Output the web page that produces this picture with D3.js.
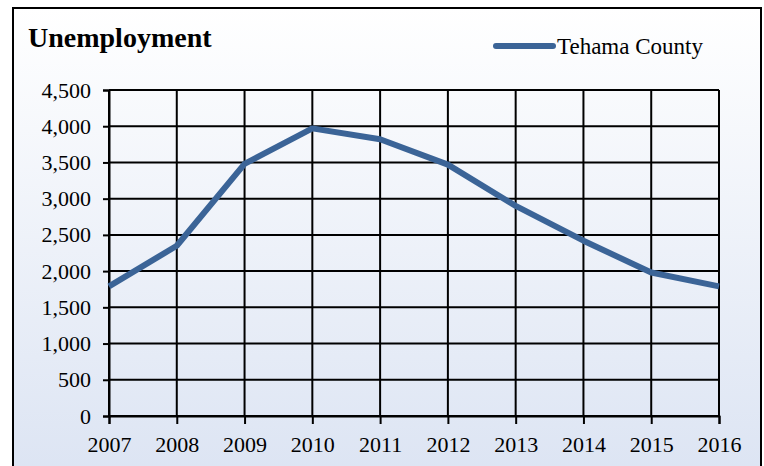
<!DOCTYPE html>
<html>
<head>
<meta charset="utf-8">
<script src="https://cdn.jsdelivr.net/npm/d3@7"></script>
<style>
  body { margin: 0; background: #fff; }
  svg text { font-family: "Times New Roman", "Liberation Serif", serif; }
</style>
</head>
<body>
<div id="chart"></div>
<script>
// data
var years = [2007, 2008, 2009, 2010, 2011, 2012, 2013, 2014, 2015, 2016]
var unemployment = [1790, 2350, 3480, 3970, 3820, 3470, 2900, 2420, 1980, 1790]
var yTicks = [0, 500, 1000, 1500, 2000, 2500, 3000, 3500, 4000, 4500]
var seriesName = 'Tehama County'

var width = 764, height = 466
var margin = {left: 109, right: 45, top: 90, bottom: 50}
var serif = '"Times New Roman", "Liberation Serif", serif'

var svg = d3.select('#chart')
  .append('svg')
  .attr('width', width)
  .attr('height', height)

var grad = svg.append('defs').append('linearGradient')
  .attr('id', 'bg')
  .attr('x1', 0).attr('y1', 0).attr('x2', 0).attr('y2', 1)
grad.append('stop').attr('offset', '0%').attr('stop-color', '#ffffff')
grad.append('stop').attr('offset', '100%').attr('stop-color', '#dce4f3')

svg.append('rect')
  .attr('x', 13).attr('y', 8)
  .attr('width', 748).attr('height', 470)
  .attr('fill', 'url(#bg)')
  .attr('stroke', '#000')
  .attr('stroke-width', 2)

var x = d3.scalePoint()
  .domain(years)
  .range([margin.left, width - margin.right])

var y = d3.scaleLinear()
  .domain([0, 4500])
  .range([416, margin.top])

// gridlines
svg.append('g')
  .selectAll('line')
  .data(yTicks)
  .enter()
  .append('line')
  .attr('x1', margin.left)
  .attr('x2', width - margin.right)
  .attr('y1', d => y(d))
  .attr('y2', d => y(d))
  .attr('stroke', '#000')
  .attr('stroke-width', 2)

svg.append('g')
  .selectAll('line')
  .data(years)
  .enter()
  .append('line')
  .attr('x1', d => x(d))
  .attr('x2', d => x(d))
  .attr('y1', y(4500))
  .attr('y2', y(0))
  .attr('stroke', '#000')
  .attr('stroke-width', 2)

// axes
var yAxis = svg.append('g')
  .attr('transform', `translate(${margin.left},0)`)
  .call(d3.axisLeft(y).tickValues(yTicks).tickSize(6).tickPadding(12).tickFormat(d3.format(',')))

var xAxis = svg.append('g')
  .attr('transform', `translate(0,${y(0)})`)
  .call(d3.axisBottom(x).tickSize(8).tickPadding(12))

;[xAxis, yAxis].forEach(function(a){
  a.attr('font-family', serif).attr('font-size', 22)
  a.select('.domain').attr('stroke', '#000').attr('stroke-width', 2)
  a.selectAll('.tick line').attr('stroke', '#000').attr('stroke-width', 2)
  a.selectAll('text').attr('fill', '#000')
})

// line
var line = d3.line()
  .x((d, i) => x(years[i]))
  .y(d => y(d))

svg.append('path')
  .datum(unemployment)
  .attr('d', line)
  .attr('fill', 'none')
  .attr('stroke', '#3b6497')
  .attr('stroke-width', 6)
  .attr('stroke-linejoin', 'round')

// title
svg.append('text')
  .attr('x', 28).attr('y', 47)
  .attr('font-family', serif)
  .attr('font-size', 28)
  .attr('font-weight', 'bold')
  .text('Unemployment')

// legend
svg.append('line')
  .attr('x1', 496).attr('x2', 553)
  .attr('y1', 46).attr('y2', 46)
  .attr('stroke', '#3b6497')
  .attr('stroke-width', 6)
  .attr('stroke-linecap', 'round')

svg.append('text')
  .attr('x', 557).attr('y', 54)
  .attr('font-family', serif)
  .attr('font-size', 23)
  .text(seriesName)
</script>
</body>
</html>
